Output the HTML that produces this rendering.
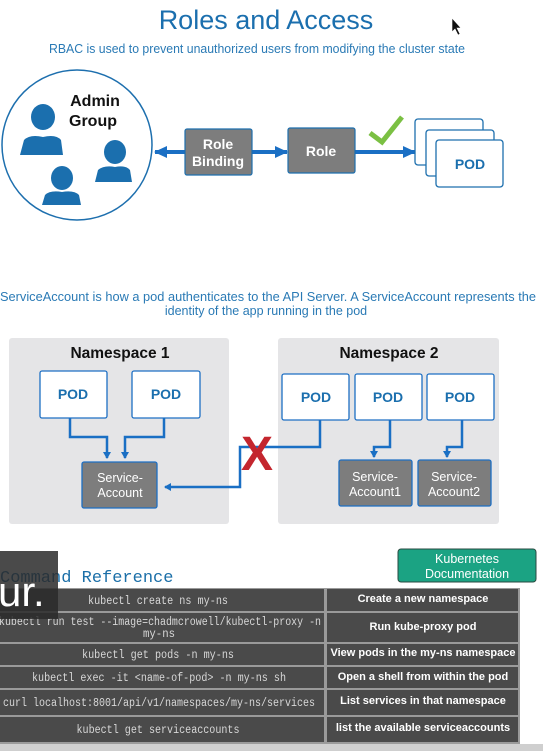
<!DOCTYPE html>
<html><head><meta charset="utf-8"><style>
html,body{margin:0;padding:0;background:#fff;width:543px;height:751px;overflow:hidden}
svg{display:block}
.s{font-family:"Liberation Sans",sans-serif}
.m{font-family:"Liberation Mono","DejaVu Sans Mono",monospace}
</style></head><body>
<svg width="543" height="751" viewBox="0 0 543 751" xmlns="http://www.w3.org/2000/svg">
<defs>
<marker id="ah" markerWidth="8" markerHeight="8" refX="6" refY="4" orient="auto" markerUnits="userSpaceOnUse"><path d="M0,0 L7,4 L0,8 Z" fill="#1a6fc4"/></marker>
<marker id="ab" markerWidth="14" markerHeight="12" refX="12" refY="6" orient="auto-start-reverse" markerUnits="userSpaceOnUse"><path d="M0,0 L13,6 L0,12 Z" fill="#1a6fc4"/></marker>
</defs>
<rect width="543" height="751" fill="#fff"/>
<text x="266" y="29" text-anchor="middle" class="s" font-size="27" fill="#1b6fae">Roles and Access</text>
<text x="257" y="53" text-anchor="middle" class="s" font-size="12.5" fill="#2a7ab5" textLength="416" lengthAdjust="spacingAndGlyphs">RBAC is used to prevent unauthorized users from modifying the cluster state</text>
<circle cx="77" cy="145" r="75" fill="#fff" stroke="#1d6fae" stroke-width="1.5"/>
<text x="95" y="106" text-anchor="middle" class="s" font-size="16" font-weight="bold" fill="#111">Admin</text>
<text x="93" y="126" text-anchor="middle" class="s" font-size="16" font-weight="bold" fill="#111">Group</text>
<g fill="#1b6fae">
<ellipse cx="43" cy="117" rx="12" ry="13"/><path d="M20,155 L24,140 Q30,134 43,137 Q56,134 61,140 L63,155 Z"/>
<ellipse cx="115" cy="152" rx="11" ry="12"/><path d="M95,182 L98,170 Q104,165 115,167 Q126,165 130,170 L132,182 Z"/>
<ellipse cx="62" cy="178" rx="11" ry="12"/><path d="M42,205 L45,195 Q50,190 62,192 Q74,190 79,195 L81,205 Z"/>
</g>
<line x1="155" y1="152" x2="185" y2="152" stroke="#1a6fc4" stroke-width="4" marker-start="url(#ab)"/>
<line x1="252" y1="152" x2="287" y2="152" stroke="#1a6fc4" stroke-width="4" marker-end="url(#ab)"/>
<line x1="355" y1="152" x2="415" y2="152" stroke="#1a6fc4" stroke-width="4" marker-end="url(#ab)"/>
<rect x="185" y="129" width="67" height="46" rx="2" fill="#7d7d7d" stroke="#1d6fae" stroke-width="1.2"/>
<text x="218" y="149" text-anchor="middle" class="s" font-size="14" font-weight="bold" fill="#fff">Role</text>
<text x="218" y="166" text-anchor="middle" class="s" font-size="14" font-weight="bold" fill="#fff">Binding</text>
<rect x="288" y="128" width="67" height="45" rx="2" fill="#7d7d7d" stroke="#1d6fae" stroke-width="1.2"/>
<text x="321" y="156" text-anchor="middle" class="s" font-size="14" font-weight="bold" fill="#fff">Role</text>
<path d="M370,133 L382,142 L402,117" fill="none" stroke="#7bc043" stroke-width="5"/>
<rect x="415" y="119" width="68" height="46" rx="3" fill="#fff" stroke="#1d6fae" stroke-width="1.3"/>
<rect x="426" y="130" width="68" height="46" rx="3" fill="#fff" stroke="#1d6fae" stroke-width="1.3"/>
<rect x="436" y="140" width="67" height="47" rx="3" fill="#fff" stroke="#1d6fae" stroke-width="1.3"/>
<text x="470" y="169" text-anchor="middle" class="s" font-size="14" font-weight="bold" fill="#1b6fae">POD</text>
<text x="268" y="301" text-anchor="middle" class="s" font-size="12.5" fill="#2a7ab5" textLength="536" lengthAdjust="spacingAndGlyphs">ServiceAccount is  how a pod authenticates to the API Server. A ServiceAccount represents the</text>
<text x="266" y="315" text-anchor="middle" class="s" font-size="12.5" fill="#2a7ab5">identity of the app running in the pod</text>
<rect x="9" y="338" width="220" height="186" rx="3" fill="#e5e5e7"/>
<rect x="278" y="338" width="221" height="186" rx="3" fill="#e5e5e7"/>
<text x="120" y="358" text-anchor="middle" class="s" font-size="15.5" font-weight="bold" fill="#111">Namespace 1</text>
<text x="389" y="358" text-anchor="middle" class="s" font-size="15.5" font-weight="bold" fill="#111">Namespace 2</text>
<g fill="#fff" stroke="#1d6fc4" stroke-width="1.3">
<rect x="40" y="371" width="67" height="47" rx="2"/><rect x="132" y="371" width="68" height="47" rx="2"/>
<rect x="282" y="374" width="67" height="46" rx="2"/><rect x="355" y="374" width="67" height="46" rx="2"/><rect x="427" y="374" width="67" height="46" rx="2"/>
</g>
<g class="s" font-size="14" font-weight="bold" fill="#1b6fae" text-anchor="middle">
<text x="73" y="399">POD</text><text x="166" y="399">POD</text>
<text x="316" y="402">POD</text><text x="388" y="402">POD</text><text x="460" y="402">POD</text>
</g>
<g fill="none" stroke="#1a6fc4" stroke-width="2.5">
<path d="M70,418 V437 H107 V458" marker-end="url(#ah)"/>
<path d="M164,418 V437 H125 V458" marker-end="url(#ah)"/>
<path d="M320,420 V447 H240 V487 H165" marker-end="url(#ah)"/>
<path d="M390,420 V447 H374 V457" marker-end="url(#ah)"/>
<path d="M462,420 V447 H447 V457" marker-end="url(#ah)"/>
</g>
<g fill="#7d7d7d" stroke="#1d6fc4" stroke-width="1.3">
<rect x="82" y="462" width="75" height="46" rx="2"/><rect x="339" y="460" width="73" height="46" rx="2"/><rect x="418" y="460" width="73" height="46" rx="2"/>
</g>
<g class="s" font-size="12.5" fill="#fff" text-anchor="middle">
<text x="120" y="482">Service-</text><text x="120" y="497">Account</text>
<text x="375" y="481">Service-</text><text x="375" y="496">Account1</text>
<text x="454" y="481">Service-</text><text x="454" y="496">Account2</text>
</g>
<text x="257" y="470" text-anchor="middle" class="s" font-size="48" font-weight="bold" fill="#c4262e">X</text>
<rect x="398" y="549" width="138" height="33" rx="3" fill="#1ba383" stroke="#2a4a40" stroke-width="1"/>
<text x="467" y="563" text-anchor="middle" class="s" font-size="12.5" fill="#fff">Kubernetes</text>
<text x="467" y="578" text-anchor="middle" class="s" font-size="12.5" fill="#fff">Documentation</text>
<text x="0" y="582" class="m" font-size="17" fill="#1b6fa8">Command Reference</text>
<rect x="0" y="588" width="520" height="156" fill="#9a9a9a"/>
<rect x="0" y="744" width="543" height="7" fill="#cfcfcf"/>
<g fill="#4a4a4a">
<rect x="0" y="589" width="324" height="22"/><rect x="327" y="589" width="191" height="22"/>
<rect x="0" y="613" width="324" height="29"/><rect x="327" y="613" width="191" height="29"/>
<rect x="0" y="644" width="324" height="21"/><rect x="327" y="644" width="191" height="21"/>
<rect x="0" y="667" width="324" height="21"/><rect x="327" y="667" width="191" height="21"/>
<rect x="0" y="690" width="324" height="25"/><rect x="327" y="690" width="191" height="25"/>
<rect x="0" y="717" width="324" height="25"/><rect x="327" y="717" width="191" height="25"/>
</g>
<g class="m" font-size="11.5" fill="#d8d8d8" text-anchor="middle" lengthAdjust="spacingAndGlyphs">
<text x="158" y="604" textLength="140" lengthAdjust="spacingAndGlyphs">kubectl create ns my-ns</text>
<text x="160" y="625" textLength="322" lengthAdjust="spacingAndGlyphs">kubectl run test --image=chadmcrowell/kubectl-proxy -n</text>
<text x="159" y="637" textLength="32" lengthAdjust="spacingAndGlyphs">my-ns</text>
<text x="158" y="658" textLength="152" lengthAdjust="spacingAndGlyphs">kubectl get pods -n my-ns</text>
<text x="159" y="681" textLength="254" lengthAdjust="spacingAndGlyphs">kubectl exec -it &lt;name-of-pod&gt; -n my-ns sh</text>
<text x="159" y="706" textLength="312" lengthAdjust="spacingAndGlyphs">curl localhost:8001/api/v1/namespaces/my-ns/services</text>
<text x="158" y="733" textLength="163" lengthAdjust="spacingAndGlyphs">kubectl get serviceaccounts</text>
</g>
<g class="s" font-size="11" font-weight="bold" fill="#fff" text-anchor="middle">
<text x="423" y="602">Create a new namespace</text>
<text x="423" y="630">Run kube-proxy pod</text>
<text x="423" y="656">View pods in  the my-ns namespace</text>
<text x="423" y="680">Open a shell from within the pod</text>
<text x="423" y="704">List services in that namespace</text>
<text x="423" y="731">list the available serviceaccounts</text>
</g>
<rect x="0" y="551" width="58" height="68" fill="#2a2a2a" fill-opacity="0.85"/>
<text x="-2" y="606" class="s" font-size="42" fill="#fff">ur.</text>
<path d="M452,18 L452,32 L455,29 L458,35 L460,34 L457,28 L461,28 Z" fill="#111" stroke="#fff" stroke-width="0.6"/>
</svg>
</body></html>
